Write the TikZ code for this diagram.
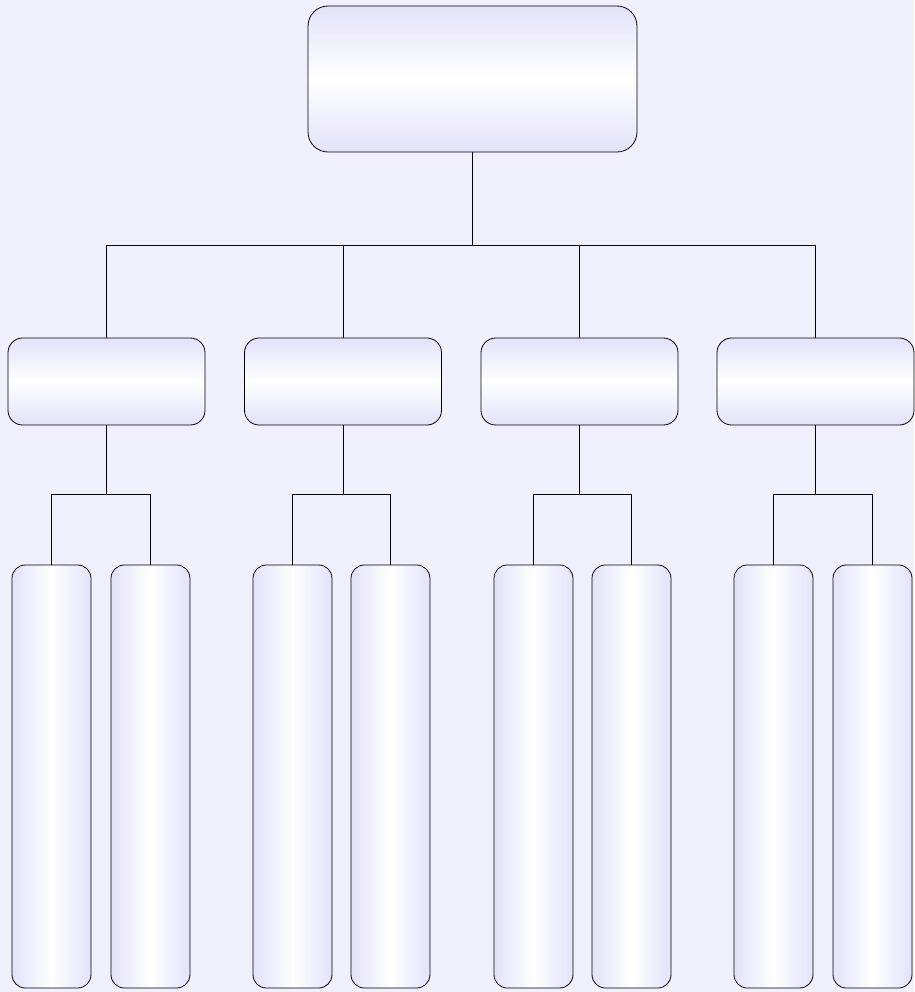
\documentclass[tikz,border=0pt]{standalone}
\usepackage{xcolor}
\usepackage{tikz}
\usetikzlibrary{positioning}

\definecolor{pagebg}{RGB}{240,240,252}
\definecolor{boxedge}{RGB}{226,226,250}

\begin{document}
\begin{tikzpicture}[x=0.75pt, y=-0.75pt, line width=0.6pt,
    headbox/.style={draw, rounded corners=15pt, minimum width=329*0.75pt,
      minimum height=146*0.75pt, top color=boxedge, bottom color=boxedge,
      middle color=white, inner sep=0pt},
    deptbox/.style={draw, rounded corners=11pt, minimum width=197*0.75pt,
      minimum height=87*0.75pt, top color=boxedge, bottom color=boxedge,
      middle color=white, inner sep=0pt},
    unitbox/.style={draw, rounded corners=10pt, minimum width=79*0.75pt,
      minimum height=423*0.75pt, left color=boxedge, right color=boxedge,
      middle color=white, inner sep=0pt}]
  % Background
  \fill[pagebg] (0,0) rectangle (914,992);
  \useasboundingbox (0,0) rectangle (914,992);

  % Head
  \node[headbox] (head) at (472.5,79) {};

  % Departments
  \node[deptbox] (dA) at (106.5,381.5) {};
  \node[deptbox] (dB) at (343,381.5) {};
  \node[deptbox] (dC) at (579.5,381.5) {};
  \node[deptbox] (dD) at (815.5,381.5) {};

  % Units
  \node[unitbox] (uA1) at (51.5,776.5) {};
  \node[unitbox] (uA2) at (150.5,776.5) {};
  \node[unitbox] (uB1) at (292.5,776.5) {};
  \node[unitbox] (uB2) at (390.5,776.5) {};
  \node[unitbox] (uC1) at (533.5,776.5) {};
  \node[unitbox] (uC2) at (631.5,776.5) {};
  \node[unitbox] (uD1) at (773.5,776.5) {};
  \node[unitbox] (uD2) at (872.5,776.5) {};

  % Connectors
  \coordinate (bus) at (472.5,245);
  \draw (head.south) -- (bus);
  \draw (bus) -| (dA.north);
  \draw (bus) -| (dB.north);
  \draw (bus) -| (dC.north);
  \draw (bus) -| (dD.north);

  \coordinate (busA) at (106.5,494);
  \coordinate (busB) at (343,494);
  \coordinate (busC) at (579.5,494);
  \coordinate (busD) at (815.5,494);
  \draw (dA.south) -- (busA);
  \draw (dB.south) -- (busB);
  \draw (dC.south) -- (busC);
  \draw (dD.south) -- (busD);
  \draw (busA) -| (uA1.north);
  \draw (busA) -| (uA2.north);
  \draw (busB) -| (uB1.north);
  \draw (busB) -| (uB2.north);
  \draw (busC) -| (uC1.north);
  \draw (busC) -| (uC2.north);
  \draw (busD) -| (uD1.north);
  \draw (busD) -| (uD2.north);
\end{tikzpicture}
\end{document}
